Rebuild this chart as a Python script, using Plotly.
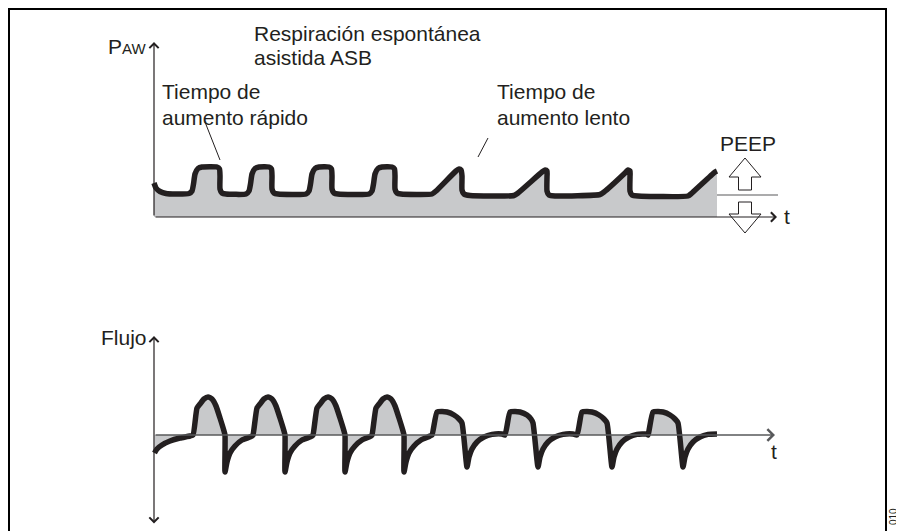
import plotly.graph_objects as go

W, H = 904, 531
OFF = 8  # margen del body de la página

# Presión en vía aérea (unidades arbitrarias: t en 0.1 s, p en cmH2O aprox.)
t_paw = [0.0, 0.2, 0.6, 1.2, 2.2, 3.5, 3.8, 3.95, 4.1, 4.4, 4.8, 6.3, 6.55, 6.6, 6.6, 6.8, 7.2,
         9.2, 9.5, 9.65, 9.8, 10.1, 10.5, 11.5, 11.75, 11.8, 11.8, 12.0, 12.4,
         15.2, 15.5, 15.65, 15.8, 16.1, 16.5, 17.5, 17.75, 17.8, 17.8, 18.0, 18.4,
         21.5, 21.8, 21.95, 22.1, 22.4, 22.8, 23.8, 24.05, 24.1, 24.1, 24.3, 24.7,
         27.8, 28.2, 30.2, 30.5, 30.7, 30.8, 30.8, 31.0, 31.6,
         36.0, 36.4, 38.8, 39.1, 39.3, 39.3, 39.3, 39.5, 40.1,
         44.6, 45.0, 47.1, 47.4, 47.6, 47.6, 47.6, 47.8, 48.4,
         53.4, 53.8, 56.1, 56.3]
paw = [17, 14.5, 12.75, 11.75, 11.5, 11.75, 13, 16.5, 21.5, 24.25, 25, 25, 24, 20.5, 14, 12, 11.5,
       11.5, 13, 16.5, 21.5, 24.25, 25, 25, 24, 20.5, 14, 12, 11.5,
       11.5, 13, 16.5, 21.5, 24.25, 25, 25, 24, 20.5, 14, 12, 11.5,
       11.5, 13, 16.5, 21.5, 24.25, 25, 25, 24, 20.5, 14, 12, 11.5,
       11.5, 13, 23, 24, 23.5, 20.5, 13.5, 11.5, 10.75,
       10.75, 12, 22.5, 23.5, 23, 20, 13, 11, 10.5,
       11.25, 12.5, 22, 23.5, 23, 20, 13, 11, 10.5,
       10.5, 12, 22.5, 23]
peep_level = 11

# Flujo
t_flow = [0.05, 0.3, 0.8, 1.6, 2.6, 3.6,
          3.9, 4.3, 4.6, 5.0, 5.4, 5.8, 6.2, 6.6, 7.0, 7.1, 7.1, 7.3, 7.6, 8.1, 8.8, 9.6, 9.8,
          9.9, 10.3, 10.6, 11.0, 11.4, 11.8, 12.2, 12.6, 13.0, 13.1, 13.1, 13.3, 13.6, 14.1, 14.8, 15.6, 15.8,
          15.9, 16.3, 16.6, 17.0, 17.4, 17.8, 18.2, 18.6, 19.0, 19.1, 19.1, 19.3, 19.6, 20.1, 20.8, 21.5, 21.7,
          21.8, 22.2, 22.5, 22.9, 23.3, 23.7, 24.1, 24.5, 24.9, 25.0, 25.0, 25.2, 25.5, 26.0, 26.7, 27.4, 27.6,
          27.8, 28.3, 28.8, 29.3, 30.0, 30.5, 30.8, 31.3, 31.5, 31.8, 32.3, 33.0, 33.8, 34.8,
          35.1, 35.6, 36.1, 36.6, 37.3, 37.7, 37.9, 38.4, 38.6, 38.9, 39.4, 40.1, 40.9, 41.9,
          42.3, 42.8, 43.3, 43.8, 44.5, 45.0, 45.3, 45.8, 46.0, 46.3, 46.8, 47.5, 48.3, 49.3,
          49.4, 49.9, 50.4, 50.9, 51.6, 52.1, 52.4, 52.9, 53.1, 53.4, 53.9, 54.6, 55.4, 56.3]
flow = [-9, -7, -5, -3, -1.5, -0.5,
        0, 13.5, 15.5, 18, 19, 18, 14.5, 8.5, 2, 0, -18.5, -13.5, -9, -5.5, -2.5, -1, -0.5,
        0, 13.5, 15.5, 18, 19, 18, 14.5, 8.5, 2, 0, -18.5, -13.5, -9, -5.5, -2.5, -1, -0.5,
        0, 13.5, 15.5, 18, 19, 18, 14.5, 8.5, 2, 0, -18.5, -13.5, -9, -5.5, -2.5, -1, -0.5,
        0, 13.5, 15.5, 18, 19, 18, 14.5, 8.5, 2, 0, -18.5, -13.5, -9, -5.5, -2.5, -1, -0.5,
        0, 11.5, 11.8, 11.5, 10, 8, 6, -16, -11, -7, -3.5, -1, 0.3, 0.5,
        0, 11.5, 11.8, 11.5, 10, 8, 6, -16, -11, -7, -3.5, -1, 0.3, 0.5,
        0, 11.5, 11.8, 11.5, 10, 8, 6, -16, -11, -7, -3.5, -1, 0.3, 0.5,
        0, 11.5, 11.8, 11.5, 10, 8, 6, -16, -11, -7, -3.5, -1, 0.3, 0.5]

INK = '#231f20'
GREY = '#c8c9cb'
FONT = 'Liberation Sans, Arial, sans-serif'


def px(x):
    return (x - OFF) / W


def py(y):
    return 1 - (y - OFF) / H


fig = go.Figure()

# curva de presión
fig.add_trace(go.Scatter(
    x=t_paw, y=paw, mode='lines', fill='tozeroy', fillcolor=GREY,
    line=dict(color=INK, width=5.5, shape='spline', smoothing=0.5),
    yaxis='y', hoverinfo='skip'))

# línea de PEEP
fig.add_trace(go.Scatter(
    x=[t_paw[-1], 62.4], y=[peep_level, peep_level], mode='lines',
    line=dict(color='#58595b', width=1.2), yaxis='y', hoverinfo='skip'))

# curva de flujo
fig.add_trace(go.Scatter(
    x=t_flow, y=flow, mode='lines', fill='tozeroy', fillcolor=GREY,
    line=dict(color=INK, width=5.5, shape='spline', smoothing=0.5),
    yaxis='y2', hoverinfo='skip'))

annotations = []


def axis_arrow(x0, y0, x1, y1, yref, color=INK, width=1.2, both=False):
    annotations.append(dict(
        x=x1, y=y1, ax=x0, ay=y0, xref='x', yref=yref, axref='x', ayref=yref,
        text='', showarrow=True, arrowhead=4, startarrowhead=4, arrowsize=1.5,
        startarrowsize=1.5, arrowwidth=width, arrowcolor=color, standoff=0,
        startstandoff=0, arrowside='end+start' if both else 'end'))


# ejes de presión
axis_arrow(0, 0, 0, 87.5, 'y')
axis_arrow(0, 0, 62.3, 0, 'y')
# ejes de flujo
axis_arrow(0, -45, 0, 49.5, 'y2', both=True)
axis_arrow(0, 0, 62.1, 0, 'y2', color='#58595b', width=1.5)


def label(text, x, y, size=21, xanchor='left', angle=0):
    annotations.append(dict(
        text=text, x=px(x), y=py(y), xref='paper', yref='paper', showarrow=False,
        xanchor=xanchor, yanchor='middle', textangle=angle,
        font=dict(family=FONT, size=size, color=INK)))


label("P<span style='font-size:15px'>AW</span>", 106, 47)
label('Respiración espontánea', 252, 33)
label('asistida ASB', 252, 58)
label('Tiempo de', 160, 92)
label('aumento rápido', 160, 117)
label('Tiempo de', 495, 92)
label('aumento lento', 495, 117)
label('PEEP', 748, 143, xanchor='center')
label('t', 787, 216, xanchor='center')
label('Flujo', 99, 337)
label('t', 774, 451, xanchor='center')
label('010', 893, 517, size=10, xanchor='center', angle=-90)

shapes = []

# marco
shapes.append(dict(type='path', xref='paper', yref='paper',
                   path=f'M{px(9)},{py(545)} L{px(9)},{py(9)} L{px(886)},{py(9)} L{px(886)},{py(545)}',
                   line=dict(color='black', width=2)))

# líneas de referencia de las etiquetas
for (x0, y0, x1, y1) in [(205, 122, 220, 160), (488, 138, 478, 157)]:
    shapes.append(dict(type='line', xref='paper', yref='paper',
                       x0=px(x0), y0=py(y0), x1=px(x1), y1=py(y1),
                       line=dict(color=INK, width=1)))


def block_arrow(cx, y_stem, y_neck, y_tip, sh=6.5, hh=16):
    pts = [(cx - sh, y_stem), (cx - sh, y_neck), (cx - hh, y_neck), (cx, y_tip),
           (cx + hh, y_neck), (cx + sh, y_neck), (cx + sh, y_stem)]
    d = 'M' + ' L'.join(f'{px(a)},{py(b)}' for a, b in pts) + ' Z'
    return dict(type='path', xref='paper', yref='paper', path=d,
                fillcolor='white', line=dict(color=INK, width=1))


shapes.append(block_arrow(745, 190, 177, 158))
shapes.append(block_arrow(745, 202, 214, 233))

# rangos: pixel de pantalla = OFF + pixel del gráfico
fig.update_layout(
    width=W, height=H, margin=dict(l=0, r=0, t=0, b=0),
    paper_bgcolor='white', plot_bgcolor='white', showlegend=False,
    xaxis=dict(range=[-14.6, 75.8], visible=False, fixedrange=True),
    yaxis=dict(range=[-161, 104.5], visible=False, fixedrange=True),
    yaxis2=dict(range=[-52, 213.5], visible=False, fixedrange=True,
                overlaying='y'),
    annotations=annotations, shapes=shapes,
)

fig.write_html('out.html')
